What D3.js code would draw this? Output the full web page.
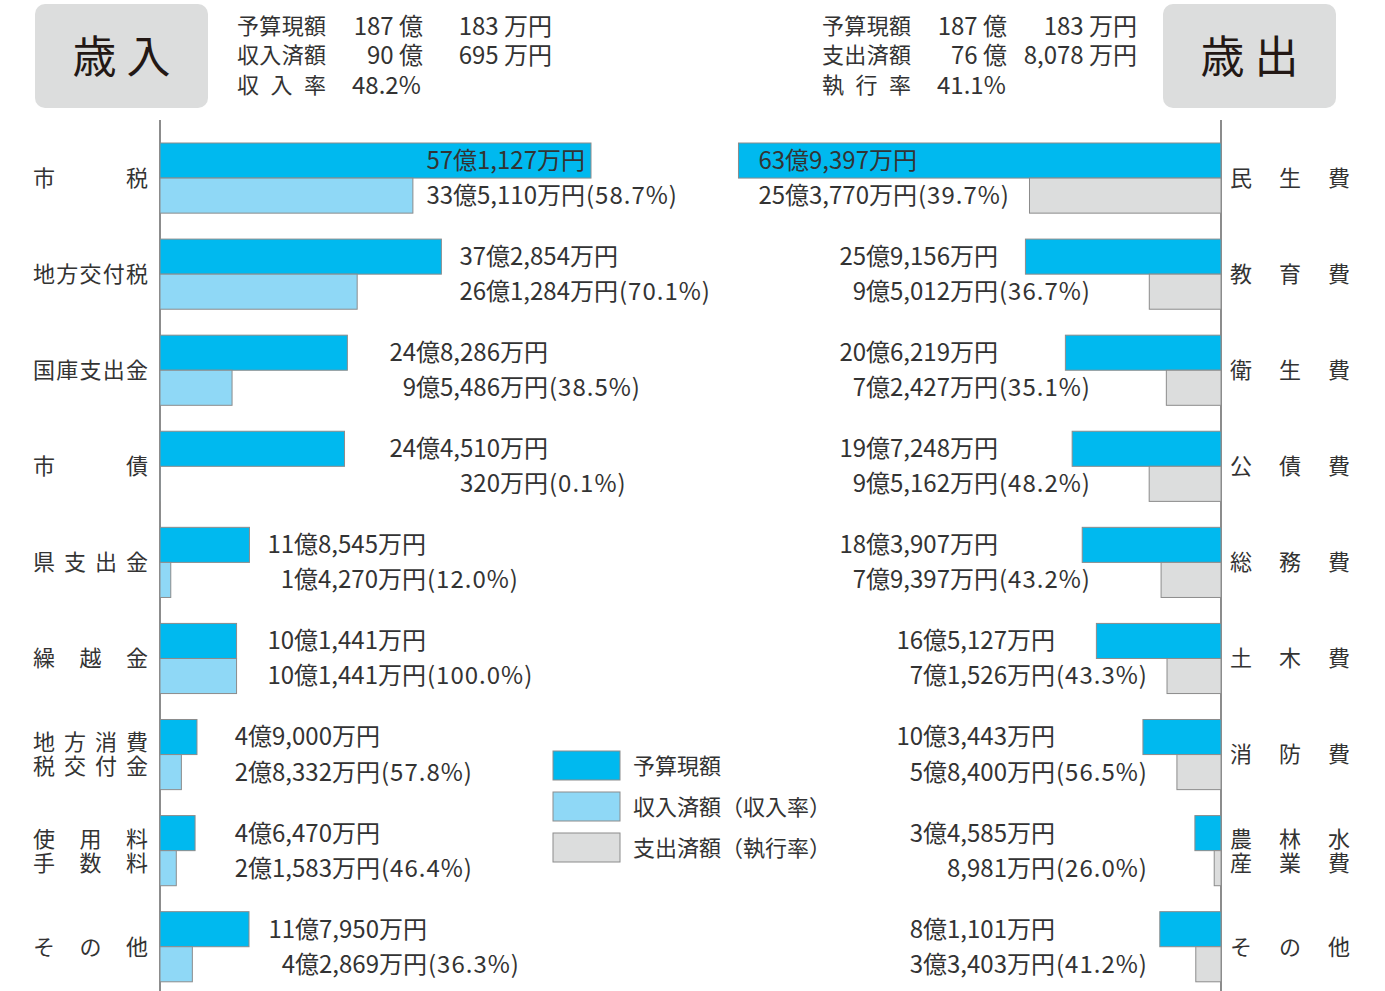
<!DOCTYPE html>
<html>
<head>
<meta charset="utf-8">
<script src="https://cdn.jsdelivr.net/npm/d3@7"></script>
<style>
  body { margin: 0; background: #fff; }
  svg { display: block; }
  text { font-family: "Noto Sans CJK JP", sans-serif; fill: #333; }
  .hd { font-family: "Liberation Sans Narrow", "Noto Sans CJK JP", sans-serif; font-size: 24px; }
</style>
</head>
<body>
<svg id="chart"></svg>
<script>
// 歳入 (万円)
var revCats = ["市税", "地方交付税", "国庫支出金", "市債", "県支出金", "繰越金", "地方消費税交付金", "使用料手数料", "その他"]
var revLabels = [["市　税"], ["地方交付税"], ["国庫支出金"], ["市　債"], ["県支出金"], ["繰越金"], ["地方消費", "税交付金"], ["使用料", "手数料"], ["その他"]]
var revBudget = [571127, 372854, 248286, 244510, 118545, 101441, 49000, 46470, 117950]
var revActual = [335110, 261284, 95486, 320, 14270, 101441, 28332, 21583, 42869]
var revRate = ["58.7", "70.1", "38.5", "0.1", "12.0", "100.0", "57.8", "46.4", "36.3"]

// 歳出 (万円)
var expCats = ["民生費", "教育費", "衛生費", "公債費", "総務費", "土木費", "消防費", "農林水産業費", "その他"]
var expLabels = [["民生費"], ["教育費"], ["衛生費"], ["公債費"], ["総務費"], ["土木費"], ["消防費"], ["農林水", "産業費"], ["その他"]]
var expBudget = [639397, 259156, 206219, 197248, 183907, 165127, 103443, 34585, 81101]
var expActual = [253770, 95012, 72427, 95162, 79397, 71526, 58400, 8981, 33403]
var expRate = ["39.7", "36.7", "35.1", "48.2", "43.2", "43.3", "56.5", "26.0", "41.2"]

var legendItems = ["予算現額", "収入済額（収入率）", "支出済額（執行率）"]

// header totals
var revHead = [["予算現額", "187 億", "183 万円"], ["収入済額", "90 億", "695 万円"], ["収入率", "48.2%", ""]]
var expHead = [["予算現額", "187 億", "183 万円"], ["支出済額", "76 億", "8,078 万円"], ["執行率", "41.1%", ""]]

// layout: where the "万円" of each value label ends
var revLabelEnd = [585, 618, 548, 548, 426, 426, 380, 380, 427]
var expLabelEnd = [917, 998, 998, 998, 998, 1055, 1055, 1055, 1055]

var W = 1385, H = 991
var axisL = 160, axisR = 1221
var cBudget = "#00b9ef", cRev = "#8fd8f6", cExp = "#dcdddd", cStroke = "#8c8c8c"

var svg = d3.select("#chart").attr("width", W).attr("height", H)

var x = d3.scaleLinear().domain([0, 571127]).range([0, 431])
var y = d3.scaleBand().domain(d3.range(9)).range([143, 143 + 8 * 96.1 + 70]).paddingInner(0.27).paddingOuter(0)
var ySub = d3.scaleBand().domain(["budget", "actual"]).range([0, y.bandwidth()])

function fmt(v) {
  var oku = Math.floor(v / 10000), man = v % 10000
  return (oku > 0 ? oku + "億" : "") + d3.format(",")(man) + "万円"
}

// axes
svg.append("line").attr("x1", axisL).attr("x2", axisL).attr("y1", 120).attr("y2", H)
  .attr("stroke", "#8c8c8c").attr("stroke-width", 2)
svg.append("line").attr("x1", axisR).attr("x2", axisR).attr("y1", 120).attr("y2", H)
  .attr("stroke", "#8c8c8c").attr("stroke-width", 2)

// revenue bars
var rev = svg.append("g")
rev.selectAll(".rb").data(revBudget).enter().append("rect")
  .attr("x", axisL).attr("y", (d, i) => y(i) + ySub("budget"))
  .attr("width", d => x(d)).attr("height", ySub.bandwidth())
  .attr("fill", cBudget).attr("stroke", cStroke).attr("stroke-width", 1)
rev.selectAll(".ra").data(revActual).enter().append("rect")
  .attr("x", axisL).attr("y", (d, i) => y(i) + ySub("actual"))
  .attr("width", d => x(d)).attr("height", ySub.bandwidth())
  .attr("fill", cRev).attr("stroke", cStroke).attr("stroke-width", 1)

// expenditure bars
var exp = svg.append("g")
exp.selectAll(".eb").data(expBudget).enter().append("rect")
  .attr("x", d => axisR - x(d)).attr("y", (d, i) => y(i) + ySub("budget"))
  .attr("width", d => x(d)).attr("height", ySub.bandwidth())
  .attr("fill", cBudget).attr("stroke", cStroke).attr("stroke-width", 1)
exp.selectAll(".ea").data(expActual).enter().append("rect")
  .attr("x", d => axisR - x(d)).attr("y", (d, i) => y(i) + ySub("actual"))
  .attr("width", d => x(d)).attr("height", ySub.bandwidth())
  .attr("fill", cExp).attr("stroke", cStroke).attr("stroke-width", 1)

// value labels
function valueLabels(g, budget, actual, rate, ends) {
  budget.forEach(function(b, i) {
    var yb = y(i) + ySub("budget") + ySub.bandwidth() / 2
    var ya = y(i) + ySub("actual") + ySub.bandwidth() / 2
    g.append("text").attr("x", ends[i]).attr("y", yb).attr("dy", "0.35em")
      .attr("text-anchor", "end").style("font-size", "24px").text(fmt(b))
    g.append("text").attr("x", ends[i]).attr("y", ya).attr("dy", "0.35em")
      .attr("text-anchor", "end").style("font-size", "24px").text(fmt(actual[i]))
    g.append("text").attr("x", ends[i] + 1).attr("y", ya).attr("dy", "0.35em")
      .style("font-size", "24px").style("letter-spacing", "1px").text("(" + rate[i] + "%)")
  })
}
valueLabels(rev, revBudget, revActual, revRate, revLabelEnd)
valueLabels(exp, expBudget, expActual, expRate, expLabelEnd)

// category labels: characters spread across a fixed width, one text per label
function spreadLabel(g, lines, x1, x2, cy, fs) {
  var lh = 24
  var n = d3.max(lines, l => l.length)
  var t = g.append("text").attr("text-anchor", "middle").style("font-size", fs + "px")
  lines.forEach(function(line, li) {
    var chars = line.split("")
    var ly = cy + (li - (lines.length - 1) / 2) * lh
    chars.forEach(function(c, ci) {
      if (c === "　") return
      var pos = chars.length === n ? ci : ci * (n - 1) / (chars.length - 1)
      var cx = n === 1 ? (x1 + x2) / 2 : x1 + fs / 2 + pos * (x2 - x1 - fs) / (n - 1)
      t.append("tspan").attr("x", cx).attr("y", ly).attr("dy", "0.36em").text(c)
    })
  })
}
revLabels.forEach(function(l, i) {
  spreadLabel(svg, l, 33, 148, y(i) + ySub.bandwidth(), 22)
})
expLabels.forEach(function(l, i) {
  spreadLabel(svg, l, 1230, 1350, y(i) + ySub.bandwidth(), 22)
})

// header
function headBox(x0, label) {
  svg.append("rect").attr("x", x0).attr("y", 4).attr("width", 173).attr("height", 104)
    .attr("rx", 10).attr("fill", cExp)
  svg.append("text").attr("x", x0 + 86.5).attr("y", 57).attr("dy", "0.36em")
    .attr("text-anchor", "middle").style("font-size", "44px").style("font-weight", 400)
    .style("fill", "#231815").text(label)
}
headBox(35, "歳 入")
headBox(1163, "歳 出")

function headText(rows, xl, xOku, xMan) {
  rows.forEach(function(r, i) {
    var yy = 26 + i * 29.5
    spreadLabel(svg, [r[0]], xl, xl + 89, yy, 22)
    if (r[2] !== "") {
      svg.append("text").attr("class", "hd").attr("x", xOku).attr("y", yy).attr("dy", "0.36em")
        .attr("text-anchor", "end").text(r[1])
      svg.append("text").attr("class", "hd").attr("x", xMan).attr("y", yy).attr("dy", "0.36em")
        .attr("text-anchor", "end").text(r[2])
    } else {
      svg.append("text").attr("class", "hd").attr("x", xl + 115).attr("y", yy).attr("dy", "0.36em")
        .text(r[1])
    }
  })
}
headText(revHead, 237, 423, 552)
headText(expHead, 822, 1007, 1137)

// legend
var legColors = [cBudget, cRev, cExp]
var leg = svg.append("g")
legendItems.forEach(function(t, i) {
  var ly = 751 + i * 41
  leg.append("rect").attr("x", 553).attr("y", ly).attr("width", 67).attr("height", 29)
    .attr("fill", legColors[i]).attr("stroke", cStroke).attr("stroke-width", 1)
  leg.append("text").attr("x", 633).attr("y", ly + 15).attr("dy", "0.36em")
    .style("font-size", "22px").text(t)
})
</script>
</body>
</html>
